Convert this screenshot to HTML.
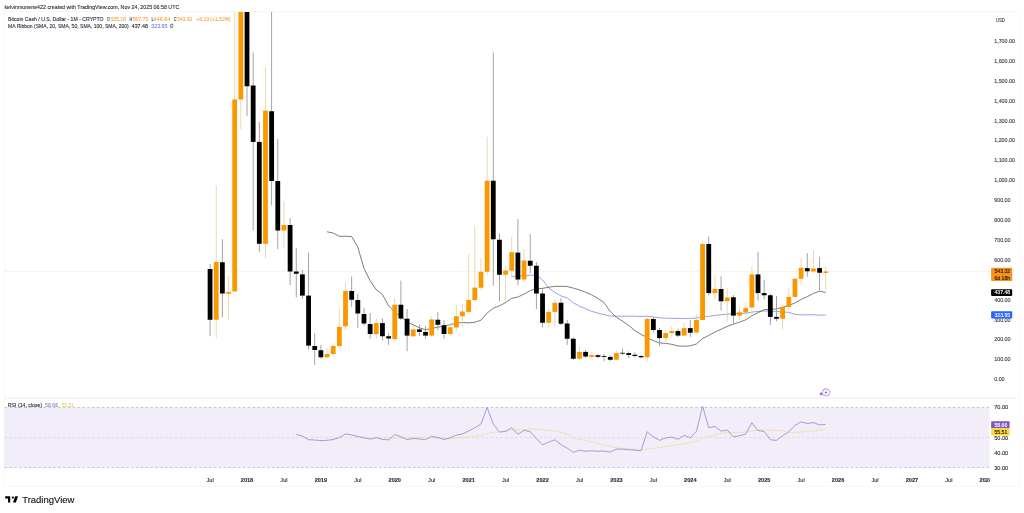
<!DOCTYPE html><html><head><meta charset="utf-8"><title>BCHUSD Chart</title><style>
html,body{margin:0;padding:0;background:#fff;width:1024px;height:513px;overflow:hidden}
svg{display:block}
text{font-family:"Liberation Sans",Arial,sans-serif;stroke-width:0.12px}
</style></head><body>
<svg width="1024" height="513" viewBox="0 0 1024 513">
<rect width="1024" height="513" fill="#fff"/>
<g fill="none" stroke="#f1f1f1" stroke-width="0.6">
<path d="M4.5 487.5V11.5H1019.3V486.2"/>
<path d="M7.7 486.2H1019.3"/>
</g>
<path d="M4.5 398.2H1017" stroke="#e9e9e9" stroke-width="0.8"/>
<text x="4.4" y="8.5" font-size="6.2" fill="#2a2e39" textLength="174.85" lengthAdjust="spacingAndGlyphs" stroke="#2a2e39">kelvinmunene422 created with TradingView.com, Nov 24, 2025 06:58 UTC</text>
<defs><clipPath id="cp"><rect x="4.5" y="12" width="985" height="386"/></clipPath>
<clipPath id="cr"><rect x="4.5" y="398.5" width="985" height="90"/></clipPath></defs>
<path d="M4.5 271.4H990" stroke="#f7931a" stroke-opacity="0.35" stroke-width="0.7" stroke-dasharray="1 1"/>
<g clip-path="url(#cp)">
<polyline points="511.74,276.67 517.9,275.86 524.06,275.83 530.21,275.28 536.37,275.31 542.53,279.77 548.68,287.98 554.84,292.31 561,295.94 567.15,297.84 573.31,302.81 579.47,306.23 585.62,308.75 591.78,311.35 597.94,313.05 604.1,314.71 610.25,315.99 616.41,316.14 622.57,316.21 628.72,316.17 634.88,316.21 641.04,316.43 647.19,316.27 653.35,317.05 659.51,317.82 665.66,318.21 671.82,318.36 677.98,318.39 684.13,318.49 690.29,318.42 696.45,318.05 702.6,316.84 708.76,316.33 714.92,315.4 721.07,314.84 727.23,314.15 733.39,313.75 739.54,313.61 745.7,313.27 751.86,312.08 758.02,311.4 764.17,310.98 770.33,311.09 776.49,311.46 782.64,311.85 788.8,312.35 794.96,314.31 801.11,314.88 807.27,314.81 813.43,314.77 819.58,315.18 825.74,315.02" fill="none" stroke="#8591e2" stroke-width="0.85" stroke-linejoin="round"/>
<polyline points="327.04,231.75 333.2,233.07 339.35,236.31 345.51,236.19 351.67,236.58 357.82,247.28 363.98,268.37 370.14,280.75 376.29,289.81 382.45,294.44 388.61,305.84 394.76,312.02 400.92,316.42 407.08,321.95 413.23,324.85 419.39,327.75 425.55,329.75 431.7,328.44 437.86,327.18 444.02,326.02 450.18,324.68 456.33,323.19 462.49,322.43 468.65,322.88 474.8,322.27 480.96,320.18 487.12,313.04 493.27,308.31 499.43,305.89 505.59,302.6 511.74,298.29 517.9,297.02 524.06,294.12 530.21,290.63 536.37,288.84 542.53,288.38 548.68,287.19 554.84,286.36 561,286.31 567.15,286.55 573.31,288.12 579.47,289.91 585.62,292.16 591.78,294.91 597.94,298.37 604.1,302.62 610.25,311.56 616.41,317.26 622.57,321.19 628.72,325.42 634.88,330.6 641.04,334.49 647.19,337.41 653.35,340.63 659.51,342.86 665.66,343.38 671.82,344.33 677.98,345.97 684.13,346.19 690.29,345.89 696.45,343.95 702.6,338.56 708.76,335.39 714.92,332.09 721.07,329.31 727.23,326.35 733.39,324.14 739.54,322.1 745.7,319.83 751.86,315.81 758.02,312.66 764.17,309.56 770.33,309.46 776.49,308.89 782.64,307.33 788.8,305.52 794.96,302.91 801.11,299.52 807.27,296.68 813.43,293.46 819.58,291.1 825.74,292.47" fill="none" stroke="#333" stroke-opacity="0.85" stroke-width="0.75" stroke-linejoin="round"/>
<rect x="209.61" y="264" width="0.9" height="72" fill="#9a9a9a"/>
<rect x="215.77" y="185.5" width="0.9" height="153.25" fill="#ebd3aa"/>
<rect x="221.92" y="239.25" width="0.9" height="78.25" fill="#9a9a9a"/>
<rect x="228.08" y="276" width="0.9" height="44" fill="#ebd3aa"/>
<rect x="234.24" y="0" width="0.9" height="292" fill="#ebd3aa"/>
<rect x="240.39" y="0" width="0.9" height="129.4" fill="#ebd3aa"/>
<rect x="246.55" y="0" width="0.9" height="116.25" fill="#9a9a9a"/>
<rect x="252.71" y="52.5" width="0.9" height="178" fill="#9a9a9a"/>
<rect x="258.86" y="121.9" width="0.9" height="130.1" fill="#9a9a9a"/>
<rect x="265.02" y="68" width="0.9" height="190.5" fill="#ebd3aa"/>
<rect x="271.18" y="0" width="0.9" height="205.5" fill="#9a9a9a"/>
<rect x="277.33" y="138.75" width="0.9" height="110.5" fill="#9a9a9a"/>
<rect x="283.49" y="201.75" width="0.9" height="46.25" fill="#ebd3aa"/>
<rect x="289.65" y="218" width="0.9" height="67" fill="#9a9a9a"/>
<rect x="295.81" y="248" width="0.9" height="49.5" fill="#9a9a9a"/>
<rect x="301.96" y="270" width="0.9" height="28.75" fill="#9a9a9a"/>
<rect x="308.12" y="252.5" width="0.9" height="97.25" fill="#9a9a9a"/>
<rect x="314.28" y="333" width="0.9" height="31.75" fill="#9a9a9a"/>
<rect x="320.43" y="345" width="0.9" height="13.5" fill="#9a9a9a"/>
<rect x="326.59" y="348" width="0.9" height="10.5" fill="#ebd3aa"/>
<rect x="332.75" y="344" width="0.9" height="12" fill="#ebd3aa"/>
<rect x="338.9" y="308.75" width="0.9" height="39.25" fill="#ebd3aa"/>
<rect x="345.06" y="283" width="0.9" height="46" fill="#ebd3aa"/>
<rect x="351.22" y="276.5" width="0.9" height="30.4" fill="#9a9a9a"/>
<rect x="357.37" y="294" width="0.9" height="34" fill="#9a9a9a"/>
<rect x="363.53" y="308" width="0.9" height="17.6" fill="#9a9a9a"/>
<rect x="369.69" y="313" width="0.9" height="25.75" fill="#9a9a9a"/>
<rect x="375.84" y="318.75" width="0.9" height="20.25" fill="#ebd3aa"/>
<rect x="382" y="318.5" width="0.9" height="22.1" fill="#9a9a9a"/>
<rect x="388.16" y="333" width="0.9" height="12" fill="#9a9a9a"/>
<rect x="394.31" y="298" width="0.9" height="42.6" fill="#ebd3aa"/>
<rect x="400.47" y="280.6" width="0.9" height="39.4" fill="#9a9a9a"/>
<rect x="406.63" y="309" width="0.9" height="42.25" fill="#9a9a9a"/>
<rect x="412.78" y="326" width="0.9" height="11" fill="#ebd3aa"/>
<rect x="418.94" y="324.4" width="0.9" height="11.85" fill="#9a9a9a"/>
<rect x="425.1" y="326.25" width="0.9" height="12.5" fill="#9a9a9a"/>
<rect x="431.25" y="316" width="0.9" height="20.5" fill="#ebd3aa"/>
<rect x="437.41" y="312" width="0.9" height="18" fill="#9a9a9a"/>
<rect x="443.57" y="320.25" width="0.9" height="18.5" fill="#9a9a9a"/>
<rect x="449.73" y="323" width="0.9" height="13.25" fill="#ebd3aa"/>
<rect x="455.88" y="305" width="0.9" height="26.9" fill="#ebd3aa"/>
<rect x="462.04" y="304.4" width="0.9" height="23.1" fill="#ebd3aa"/>
<rect x="468.2" y="253.9" width="0.9" height="60.1" fill="#ebd3aa"/>
<rect x="474.35" y="225.5" width="0.9" height="76.5" fill="#ebd3aa"/>
<rect x="480.51" y="258.25" width="0.9" height="32.5" fill="#ebd3aa"/>
<rect x="486.67" y="136.75" width="0.9" height="139" fill="#ebd3aa"/>
<rect x="492.82" y="52.5" width="0.9" height="233.25" fill="#9a9a9a"/>
<rect x="498.98" y="233.25" width="0.9" height="68.25" fill="#9a9a9a"/>
<rect x="505.14" y="266" width="0.9" height="34.6" fill="#ebd3aa"/>
<rect x="511.29" y="237" width="0.9" height="40" fill="#ebd3aa"/>
<rect x="517.45" y="219.25" width="0.9" height="66" fill="#9a9a9a"/>
<rect x="523.61" y="248.9" width="0.9" height="33.1" fill="#ebd3aa"/>
<rect x="529.76" y="233.9" width="0.9" height="39.35" fill="#9a9a9a"/>
<rect x="535.92" y="262" width="0.9" height="47" fill="#9a9a9a"/>
<rect x="542.08" y="288.9" width="0.9" height="38.6" fill="#9a9a9a"/>
<rect x="548.23" y="308" width="0.9" height="19.5" fill="#ebd3aa"/>
<rect x="554.39" y="300" width="0.9" height="27" fill="#ebd3aa"/>
<rect x="560.55" y="298" width="0.9" height="27" fill="#9a9a9a"/>
<rect x="566.7" y="319.75" width="0.9" height="25.25" fill="#9a9a9a"/>
<rect x="572.86" y="337.5" width="0.9" height="22.5" fill="#9a9a9a"/>
<rect x="579.02" y="346.9" width="0.9" height="13.1" fill="#ebd3aa"/>
<rect x="585.17" y="350" width="0.9" height="8" fill="#9a9a9a"/>
<rect x="591.33" y="352.25" width="0.9" height="6.5" fill="#ebd3aa"/>
<rect x="597.49" y="354" width="0.9" height="4.5" fill="#9a9a9a"/>
<rect x="603.65" y="353.75" width="0.9" height="7.5" fill="#9a9a9a"/>
<rect x="609.8" y="355.5" width="0.9" height="5.5" fill="#9a9a9a"/>
<rect x="615.96" y="351" width="0.9" height="9.5" fill="#ebd3aa"/>
<rect x="622.12" y="348.75" width="0.9" height="6.25" fill="#9a9a9a"/>
<rect x="628.27" y="351.5" width="0.9" height="6.6" fill="#9a9a9a"/>
<rect x="634.43" y="352.5" width="0.9" height="5" fill="#9a9a9a"/>
<rect x="640.59" y="355" width="0.9" height="3.5" fill="#9a9a9a"/>
<rect x="646.74" y="314.4" width="0.9" height="46.85" fill="#ebd3aa"/>
<rect x="652.9" y="317" width="0.9" height="15.5" fill="#9a9a9a"/>
<rect x="659.06" y="328" width="0.9" height="18.25" fill="#9a9a9a"/>
<rect x="665.21" y="330.6" width="0.9" height="11.9" fill="#ebd3aa"/>
<rect x="671.37" y="326.25" width="0.9" height="11.25" fill="#ebd3aa"/>
<rect x="677.53" y="328.75" width="0.9" height="8.25" fill="#9a9a9a"/>
<rect x="683.68" y="322.5" width="0.9" height="14" fill="#ebd3aa"/>
<rect x="689.84" y="320" width="0.9" height="16.9" fill="#9a9a9a"/>
<rect x="696" y="314.4" width="0.9" height="19.1" fill="#ebd3aa"/>
<rect x="702.15" y="241.9" width="0.9" height="78.1" fill="#ebd3aa"/>
<rect x="708.31" y="236.5" width="0.9" height="58.5" fill="#9a9a9a"/>
<rect x="714.47" y="274.4" width="0.9" height="25" fill="#ebd3aa"/>
<rect x="720.62" y="276.25" width="0.9" height="34.35" fill="#9a9a9a"/>
<rect x="726.78" y="288.1" width="0.9" height="33.8" fill="#ebd3aa"/>
<rect x="732.94" y="295" width="0.9" height="28.75" fill="#9a9a9a"/>
<rect x="739.09" y="306.9" width="0.9" height="13.1" fill="#ebd3aa"/>
<rect x="745.25" y="302.5" width="0.9" height="15" fill="#ebd3aa"/>
<rect x="751.41" y="266.25" width="0.9" height="48.15" fill="#ebd3aa"/>
<rect x="757.57" y="251.9" width="0.9" height="48.7" fill="#9a9a9a"/>
<rect x="763.72" y="280" width="0.9" height="19.4" fill="#9a9a9a"/>
<rect x="769.88" y="293.75" width="0.9" height="31.25" fill="#9a9a9a"/>
<rect x="776.04" y="296" width="0.9" height="25.25" fill="#9a9a9a"/>
<rect x="782.19" y="304.4" width="0.9" height="25" fill="#ebd3aa"/>
<rect x="788.35" y="288.1" width="0.9" height="21.9" fill="#ebd3aa"/>
<rect x="794.51" y="276.9" width="0.9" height="21.1" fill="#ebd3aa"/>
<rect x="800.66" y="258.1" width="0.9" height="27.5" fill="#ebd3aa"/>
<rect x="806.82" y="253.1" width="0.9" height="23.8" fill="#9a9a9a"/>
<rect x="812.98" y="250" width="0.9" height="23" fill="#ebd3aa"/>
<rect x="819.13" y="256.9" width="0.9" height="33.7" fill="#9a9a9a"/>
<rect x="825.29" y="266.5" width="0.9" height="24.1" fill="#ebd3aa"/>
<rect x="207.66" y="269" width="4.8" height="50.75" fill="#000000"/>
<rect x="213.82" y="262" width="4.8" height="57.75" fill="#fb9800"/>
<rect x="219.97" y="262.25" width="4.8" height="31.25" fill="#000000"/>
<rect x="226.13" y="291.9" width="4.8" height="1.85" fill="#fb9800"/>
<rect x="232.29" y="99.5" width="4.8" height="192" fill="#fb9800"/>
<rect x="238.44" y="0" width="4.8" height="99.5" fill="#fb9800"/>
<rect x="244.6" y="0" width="4.8" height="86.25" fill="#000000"/>
<rect x="250.76" y="85.5" width="4.8" height="56.4" fill="#000000"/>
<rect x="256.91" y="141.9" width="4.8" height="101.85" fill="#000000"/>
<rect x="263.07" y="110.6" width="4.8" height="133.15" fill="#fb9800"/>
<rect x="269.23" y="111.25" width="4.8" height="69.75" fill="#000000"/>
<rect x="275.38" y="181" width="4.8" height="49.5" fill="#000000"/>
<rect x="281.54" y="225" width="4.8" height="5.5" fill="#fb9800"/>
<rect x="287.7" y="225" width="4.8" height="46.5" fill="#000000"/>
<rect x="293.86" y="271.5" width="4.8" height="2.25" fill="#000000"/>
<rect x="300.01" y="274.4" width="4.8" height="21.2" fill="#000000"/>
<rect x="306.17" y="295.6" width="4.8" height="50" fill="#000000"/>
<rect x="312.33" y="346" width="4.8" height="4" fill="#000000"/>
<rect x="318.48" y="350.25" width="4.8" height="7" fill="#000000"/>
<rect x="324.64" y="354" width="4.8" height="3.25" fill="#fb9800"/>
<rect x="330.8" y="346" width="4.8" height="8" fill="#fb9800"/>
<rect x="336.95" y="326.9" width="4.8" height="19.1" fill="#fb9800"/>
<rect x="343.11" y="291" width="4.8" height="35.25" fill="#fb9800"/>
<rect x="349.27" y="291" width="4.8" height="8.75" fill="#000000"/>
<rect x="355.42" y="300" width="4.8" height="13.5" fill="#000000"/>
<rect x="361.58" y="314" width="4.8" height="9.5" fill="#000000"/>
<rect x="367.74" y="324" width="4.8" height="10" fill="#000000"/>
<rect x="373.89" y="323.1" width="4.8" height="10.9" fill="#fb9800"/>
<rect x="380.05" y="323.1" width="4.8" height="13.15" fill="#000000"/>
<rect x="386.21" y="336.25" width="4.8" height="2.25" fill="#000000"/>
<rect x="392.36" y="304.75" width="4.8" height="34.25" fill="#fb9800"/>
<rect x="398.52" y="304.75" width="4.8" height="13.75" fill="#000000"/>
<rect x="404.68" y="318.75" width="4.8" height="16.85" fill="#000000"/>
<rect x="410.83" y="329.4" width="4.8" height="6.85" fill="#fb9800"/>
<rect x="416.99" y="329.4" width="4.8" height="2.5" fill="#000000"/>
<rect x="423.15" y="331.9" width="4.8" height="3.7" fill="#000000"/>
<rect x="429.3" y="319.4" width="4.8" height="16.2" fill="#fb9800"/>
<rect x="435.46" y="319.75" width="4.8" height="5" fill="#000000"/>
<rect x="441.62" y="325.25" width="4.8" height="8.75" fill="#000000"/>
<rect x="447.78" y="327.25" width="4.8" height="6.75" fill="#fb9800"/>
<rect x="453.93" y="316.25" width="4.8" height="11.25" fill="#fb9800"/>
<rect x="460.09" y="311.5" width="4.8" height="4.75" fill="#fb9800"/>
<rect x="466.25" y="300" width="4.8" height="11.9" fill="#fb9800"/>
<rect x="472.4" y="287.6" width="4.8" height="12.4" fill="#fb9800"/>
<rect x="478.56" y="271.75" width="4.8" height="16" fill="#fb9800"/>
<rect x="484.72" y="180.75" width="4.8" height="91" fill="#fb9800"/>
<rect x="490.87" y="180.75" width="4.8" height="58.5" fill="#000000"/>
<rect x="497.03" y="239.75" width="4.8" height="35" fill="#000000"/>
<rect x="503.19" y="270.5" width="4.8" height="4.25" fill="#fb9800"/>
<rect x="509.34" y="252.25" width="4.8" height="18.5" fill="#fb9800"/>
<rect x="515.5" y="252.6" width="4.8" height="26.9" fill="#000000"/>
<rect x="521.66" y="260.5" width="4.8" height="19" fill="#fb9800"/>
<rect x="527.81" y="260.75" width="4.8" height="5" fill="#000000"/>
<rect x="533.97" y="265.75" width="4.8" height="27.75" fill="#000000"/>
<rect x="540.13" y="293.5" width="4.8" height="29.25" fill="#000000"/>
<rect x="546.28" y="311.9" width="4.8" height="10.85" fill="#fb9800"/>
<rect x="552.44" y="302.75" width="4.8" height="9.15" fill="#fb9800"/>
<rect x="558.6" y="302.75" width="4.8" height="21" fill="#000000"/>
<rect x="564.75" y="323.5" width="4.8" height="15.25" fill="#000000"/>
<rect x="570.91" y="338.75" width="4.8" height="20" fill="#000000"/>
<rect x="577.07" y="351.9" width="4.8" height="6.85" fill="#fb9800"/>
<rect x="583.22" y="351.9" width="4.8" height="4.6" fill="#000000"/>
<rect x="589.38" y="355" width="4.8" height="1.9" fill="#fb9800"/>
<rect x="595.54" y="355.25" width="4.8" height="1.65" fill="#000000"/>
<rect x="601.7" y="356" width="4.8" height="0.8" fill="#000000"/>
<rect x="607.85" y="356.9" width="4.8" height="2.85" fill="#000000"/>
<rect x="614.01" y="353.1" width="4.8" height="6.65" fill="#fb9800"/>
<rect x="620.17" y="352.8" width="4.8" height="0.8" fill="#000000"/>
<rect x="626.32" y="353.1" width="4.8" height="1.9" fill="#000000"/>
<rect x="632.48" y="354.75" width="4.8" height="1.25" fill="#000000"/>
<rect x="638.64" y="356" width="4.8" height="1.25" fill="#000000"/>
<rect x="644.79" y="319" width="4.8" height="38.25" fill="#fb9800"/>
<rect x="650.95" y="319" width="4.8" height="11" fill="#000000"/>
<rect x="657.11" y="330" width="4.8" height="8.1" fill="#000000"/>
<rect x="663.26" y="333.1" width="4.8" height="5" fill="#fb9800"/>
<rect x="669.42" y="331" width="4.8" height="2.1" fill="#fb9800"/>
<rect x="675.58" y="331" width="4.8" height="4.6" fill="#000000"/>
<rect x="681.73" y="328.1" width="4.8" height="7.5" fill="#fb9800"/>
<rect x="687.89" y="328.1" width="4.8" height="4.65" fill="#000000"/>
<rect x="694.05" y="320" width="4.8" height="12.5" fill="#fb9800"/>
<rect x="700.2" y="244" width="4.8" height="76" fill="#fb9800"/>
<rect x="706.36" y="244" width="4.8" height="49.1" fill="#000000"/>
<rect x="712.52" y="289" width="4.8" height="4.1" fill="#fb9800"/>
<rect x="718.67" y="289" width="4.8" height="12.25" fill="#000000"/>
<rect x="724.83" y="297.5" width="4.8" height="3.75" fill="#fb9800"/>
<rect x="730.99" y="297.25" width="4.8" height="18.35" fill="#000000"/>
<rect x="737.14" y="312.25" width="4.8" height="3.35" fill="#fb9800"/>
<rect x="743.3" y="308.1" width="4.8" height="4.4" fill="#fb9800"/>
<rect x="749.46" y="274.4" width="4.8" height="33.1" fill="#fb9800"/>
<rect x="755.62" y="274.4" width="4.8" height="18.7" fill="#000000"/>
<rect x="761.77" y="293.1" width="4.8" height="2.15" fill="#000000"/>
<rect x="767.93" y="295.25" width="4.8" height="21.65" fill="#000000"/>
<rect x="774.09" y="316.9" width="4.8" height="1.85" fill="#000000"/>
<rect x="780.24" y="306.9" width="4.8" height="11.85" fill="#fb9800"/>
<rect x="786.4" y="296.9" width="4.8" height="10" fill="#fb9800"/>
<rect x="792.56" y="278.75" width="4.8" height="18.15" fill="#fb9800"/>
<rect x="798.71" y="267.75" width="4.8" height="11" fill="#fb9800"/>
<rect x="804.87" y="268.1" width="4.8" height="3.15" fill="#000000"/>
<rect x="811.03" y="268.5" width="4.8" height="3" fill="#fb9800"/>
<rect x="817.18" y="268.1" width="4.8" height="4.65" fill="#000000"/>
<rect x="823.34" y="271.4" width="4.8" height="1.6" fill="#fb9800"/>
</g>
<g font-size="6.0">
<text x="8" y="20.5" fill="#2a2e39" textLength="95.6" lengthAdjust="spacingAndGlyphs" stroke="#2a2e39">Bitcoin Cash / U.S. Dollar - 1M - CRYPTO</text>
<text x="106.9" y="20.5" fill="#2f3547" textLength="2.8" lengthAdjust="spacingAndGlyphs" stroke="#2f3547">O</text>
<text x="110.4" y="20.5" fill="#f4a548" textLength="15.5" lengthAdjust="spacingAndGlyphs" stroke="#f4a548">535.18</text>
<text x="129.6" y="20.5" fill="#2f3547" textLength="2.8" lengthAdjust="spacingAndGlyphs" stroke="#2f3547">H</text>
<text x="132.4" y="20.5" fill="#f4a548" textLength="15.9" lengthAdjust="spacingAndGlyphs" stroke="#f4a548">567.75</text>
<text x="151.6" y="20.5" fill="#2f3547" textLength="2.3" lengthAdjust="spacingAndGlyphs" stroke="#2f3547">L</text>
<text x="153.6" y="20.5" fill="#f4a548" textLength="16.6" lengthAdjust="spacingAndGlyphs" stroke="#f4a548">446.64</text>
<text x="173.8" y="20.5" fill="#2f3547" textLength="2.8" lengthAdjust="spacingAndGlyphs" stroke="#2f3547">C</text>
<text x="177.3" y="20.5" fill="#f4a548" textLength="14.9" lengthAdjust="spacingAndGlyphs" stroke="#f4a548">543.32</text>
<text x="196.3" y="20.5" fill="#f4a548" textLength="34.5" lengthAdjust="spacingAndGlyphs" stroke="#f4a548">+8.13 (+1.52%)</text>
<text x="8" y="27.8" fill="#2a2e39" textLength="120.8" lengthAdjust="spacingAndGlyphs" stroke="#2a2e39">MA Ribbon (SMA, 20, SMA, 50, SMA, 100, SMA, 200)</text>
<text x="131.7" y="27.8" fill="#1a1a1a" textLength="16.2" lengthAdjust="spacingAndGlyphs" stroke="#1a1a1a">437.48</text>
<text x="151.3" y="27.8" fill="#6a86e6" textLength="16.1" lengthAdjust="spacingAndGlyphs" stroke="#6a86e6">323.95</text>
<text x="170.3" y="27.8" fill="#2a2e39" textLength="3.4" lengthAdjust="spacingAndGlyphs" stroke="#2a2e39">&#8709;</text>
</g>
<g font-size="5.35" fill="#3a3e4a" stroke="#3a3e4a">
<text x="995.8" y="21.7" textLength="9.2" lengthAdjust="spacingAndGlyphs">USD</text>
<text x="994.2" y="42.95">1,700.00</text>
<text x="994.2" y="62.85">1,600.00</text>
<text x="994.2" y="82.75">1,500.00</text>
<text x="994.2" y="102.65">1,400.00</text>
<text x="994.2" y="122.55">1,300.00</text>
<text x="994.2" y="142.45">1,200.00</text>
<text x="994.2" y="162.35">1,100.00</text>
<text x="994.2" y="182.25">1,000.00</text>
<text x="994.2" y="202.15">900.00</text>
<text x="994.2" y="222.05">800.00</text>
<text x="994.2" y="241.95">700.00</text>
<text x="994.2" y="261.85">600.00</text>
<text x="994.2" y="301.65">400.00</text>
<text x="994.2" y="321.55">300.00</text>
<text x="994.2" y="341.45">200.00</text>
<text x="994.2" y="361.35">100.00</text>
<text x="994.2" y="381.25">0.00</text>
</g>
<rect x="991.1" y="267.8" width="21.1" height="13.2" rx="0.8" fill="#f7931a"/>
<text x="994.5" y="272.95" font-size="5.1" fill="#1a1a1a" stroke="#1a1a1a">543.32</text>
<text x="994.5" y="279.55" font-size="5.1" fill="#1a1a1a" stroke="#1a1a1a">6d 18h</text>
<rect x="991.1" y="289.2" width="21.1" height="6.7" rx="0.8" fill="#000"/>
<text x="994.5" y="294.4" font-size="5.1" fill="#fff" stroke="#fff">437.48</text>
<rect x="991.1" y="311.3" width="21.1" height="7.2" rx="0.8" fill="#2962ff"/>
<text x="994.5" y="316.75" font-size="5.1" fill="#fff" stroke="#fff">323.95</text>
<rect x="4.5" y="407.5" width="985" height="60" fill="#7e57c2" fill-opacity="0.1"/>
<g stroke="#a0a3ab" stroke-width="0.6" stroke-dasharray="2.4 2.462" stroke-dashoffset="4.66">
<path d="M4.5 407.5H990"/><path d="M4.5 467.5H990"/>
</g>
<path d="M4.5 437.6H990" stroke="#9598a1" stroke-opacity="0.45" stroke-width="0.6" stroke-dasharray="2.4 2.462" stroke-dashoffset="4.66"/>
<g clip-path="url(#cr)">
<polyline points="376.29,437.72 382.45,438.08 388.61,438.35 394.76,437.98 400.92,437.75 407.08,437.68 413.23,437.55 419.39,437.51 425.55,437.66 431.7,437.82 437.86,438 444.02,438.22 450.18,438.23 456.33,437.95 462.49,437.68 468.65,437.08 474.8,436.22 480.96,435.46 487.12,433.36 493.27,432.23 499.43,431.78 505.59,431.23 511.74,430.38 517.9,430.24 524.06,429.73 530.21,429.17 536.37,429.21 542.53,429.9 548.68,430.48 554.84,431.11 561,432.32 567.15,434.05 573.31,437.26 579.47,439.14 585.62,440.51 591.78,441.9 597.94,443.58 604.1,444.78 610.25,446.33 616.41,447.57 622.57,448.34 628.72,448.69 634.88,449.26 641.04,450.04 647.19,449.12 653.35,448.32 659.51,447.46 665.66,446.59 671.82,445.57 677.98,444.75 684.13,443.62 690.29,442.67 696.45,441.18 702.6,438.12 708.76,436.59 714.92,434.93 721.07,433.57 727.23,432.1 733.39,432.46 739.54,432.38 745.7,431.93 751.86,430.84 758.02,430.38 764.17,429.81 770.33,430.13 776.49,430.3 782.64,430.62 788.8,432.46 794.96,432.3 801.11,431.96 807.27,431.42 813.43,430.89 819.58,430.04 825.74,429.23" fill="none" stroke="#f1dc9c" stroke-width="0.8" stroke-linejoin="round"/>
<polyline points="296.26,434.45 302.41,436.04 308.57,439.7 314.73,440.03 320.88,440.6 327.04,440.3 333.2,439.52 339.35,437.59 345.51,433.95 351.67,434.94 357.82,436.55 363.98,437.77 370.14,439.1 376.29,437.6 382.45,439.46 388.61,439.79 394.76,434.51 400.92,436.78 407.08,439.62 413.23,438.5 419.39,438.97 425.55,439.69 431.7,436.27 437.86,437.45 444.02,439.56 450.18,437.9 456.33,435.15 462.49,433.93 468.65,430.96 474.8,427.8 480.96,423.9 487.12,407.33 493.27,423.88 499.43,432.15 505.59,431.32 511.74,427.74 517.9,434.29 524.06,430.35 530.21,431.67 536.37,438.44 542.53,444.87 548.68,442.11 554.84,439.75 561,444.7 567.15,448.08 573.31,452.37 579.47,450.21 585.62,451.28 591.78,450.75 597.94,451.24 604.1,451.12 610.25,452.06 616.41,449.06 622.57,449.16 628.72,449.75 634.88,450.14 641.04,450.65 647.19,431.81 653.35,436.82 659.51,440.37 665.66,438.01 671.82,436.99 677.98,439.32 684.13,435.37 690.29,437.93 696.45,431.2 702.6,406.18 708.76,427.67 714.92,426.51 721.07,431.18 727.23,429.97 733.39,436.89 739.54,435.67 745.7,434.1 751.86,422.79 758.02,430.53 764.17,431.39 770.33,439.73 776.49,440.41 782.64,435.68 788.8,431.85 794.96,425.42 801.11,421.83 807.27,423.57 813.43,422.6 819.58,424.92 825.74,424.38" fill="none" stroke="#978bd0" stroke-width="0.85" stroke-linejoin="round"/>
</g>
<g font-size="6.0">
<text x="7.8" y="407.2" fill="#2a2e39" textLength="34.4" lengthAdjust="spacingAndGlyphs" stroke="#2a2e39">RSI (14, close)</text>
<text x="45" y="407.2" fill="#8a7ed2" textLength="13.2" lengthAdjust="spacingAndGlyphs" stroke="#8a7ed2">58.66</text>
<text x="61.7" y="407.2" fill="#edd062" textLength="12.1" lengthAdjust="spacingAndGlyphs" stroke="#edd062">55.51</text>
</g>
<g font-size="5.6" fill="#2a2e39" stroke="#2a2e39">
<text x="994.2" y="409.3">70.00</text>
<text x="994.2" y="440">50.00</text>
<text x="994.2" y="454.8">40.00</text>
<text x="994.2" y="469.7">30.00</text>
</g>
<rect x="991.1" y="421.2" width="18.5" height="7" rx="0.8" fill="#7e57c2"/>
<text x="994.5" y="426.55" font-size="5.1" fill="#fff" stroke="#fff">58.66</text>
<rect x="991.1" y="428.2" width="18.5" height="7.4" rx="0.8" fill="#fdd835"/>
<text x="994.5" y="433.75" font-size="5.1" fill="#1a1a1a" stroke="#1a1a1a">55.51</text>
<circle cx="826.1" cy="392.4" r="3.7" fill="#fff" stroke="#b27ad9" stroke-width="0.75"/>
<path d="M823.2 390.6A3.7 3.7 0 0 1 825.2 388.8" fill="none" stroke="#8a8a9a" stroke-width="0.6"/>
<path d="M827.1 389.8L824.4 392.7H825.9L824.7 395.1L827.5 392.0H826.0Z" fill="#9d52c9"/>
<circle cx="821.1" cy="393.9" r="1.35" fill="#5d5df2" fill-opacity="0.85"/>
<defs><clipPath id="ct"><rect x="4.5" y="470" width="985.3" height="16"/></clipPath></defs>
<g font-size="5.6" fill="#2a2e39" text-anchor="middle" clip-path="url(#ct)" stroke="#2a2e39">
<text x="210.06" y="482.3">Jul</text>
<text x="247" y="482.3" font-weight="bold">2018</text>
<text x="283.94" y="482.3">Jul</text>
<text x="320.88" y="482.3" font-weight="bold">2019</text>
<text x="357.82" y="482.3">Jul</text>
<text x="394.76" y="482.3" font-weight="bold">2020</text>
<text x="431.7" y="482.3">Jul</text>
<text x="468.65" y="482.3" font-weight="bold">2021</text>
<text x="505.59" y="482.3">Jul</text>
<text x="542.53" y="482.3" font-weight="bold">2022</text>
<text x="579.47" y="482.3">Jul</text>
<text x="616.41" y="482.3" font-weight="bold">2023</text>
<text x="653.35" y="482.3">Jul</text>
<text x="690.29" y="482.3" font-weight="bold">2024</text>
<text x="727.23" y="482.3">Jul</text>
<text x="764.17" y="482.3" font-weight="bold">2025</text>
<text x="801.11" y="482.3">Jul</text>
<text x="838.05" y="482.3" font-weight="bold">2026</text>
<text x="874.99" y="482.3">Jul</text>
<text x="911.94" y="482.3" font-weight="bold">2027</text>
<text x="948.88" y="482.3">Jul</text>
<text x="985.82" y="482.3" font-weight="bold">2028</text>
</g>
<g fill="#000"><path d="M5.2 496.3H10.25V502.6H8V498.4H5.2Z"/><circle cx="12.9" cy="497.6" r="1.15"/><path d="M15.2 496.3H18L15.9 502.6H13.05Z"/></g>
<text x="22.2" y="502.7" font-size="9" fill="#111" stroke="#111" stroke-width="0.45" textLength="52.3" lengthAdjust="spacingAndGlyphs">TradingView</text>
</svg></body></html>
